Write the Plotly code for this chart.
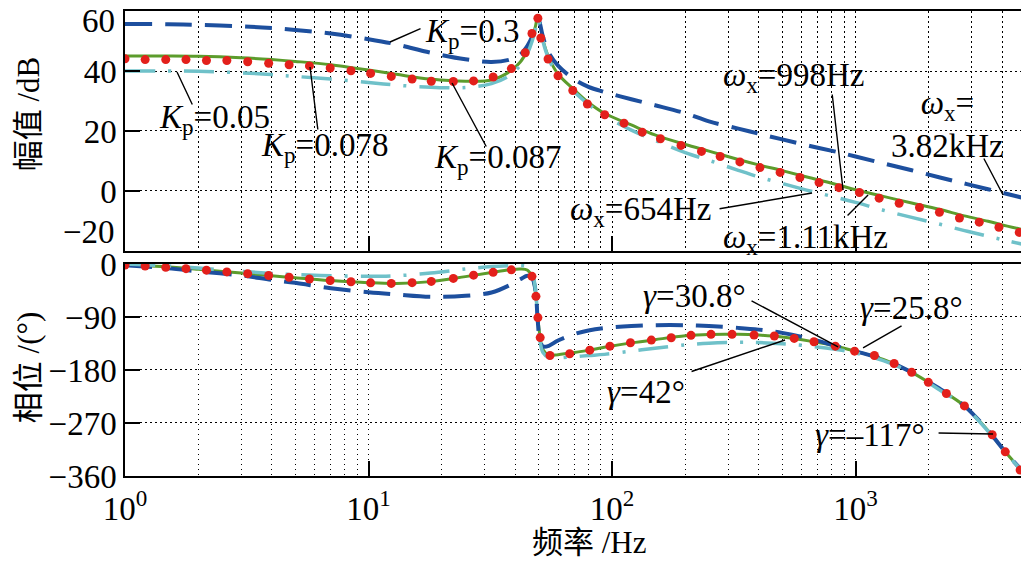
import numpy as np
import plotly.graph_objects as go
from plotly.subplots import make_subplots

# frequency grid (Hz) shared by the three line traces
freq = [1, 1.5, 2, 3, 4, 5, 7, 10, 13, 18,
        25, 32, 38, 42, 45, 47, 48.5, 49.5, 50.5, 52,
        55, 60, 70, 80, 93, 120, 150, 200, 250, 330,
        400, 500, 650, 850, 1000, 1300, 1700, 2200, 2800, 3500,
        4200, 5060]

# magnitude (dB)
mag_kp03 = [55.7, 55.6, 55.4, 54.9, 54.3, 53.7, 52.5, 50.6, 48.9, 46.1,
            43.9, 43.0, 43.8, 45.5, 48.5, 51.5, 55.0, 57.8, 56.0, 51.5,
            46.0, 41.8, 37.2, 34.7, 33.0, 30.6, 28.6, 25.9, 23.2, 20.8,
            19.1, 17.2, 15.0, 12.9, 11.5, 9.2, 6.9, 4.6, 2.5, 0.6,
            -1.0, -2.6]
mag_kp0087 = [45.0, 45.0, 44.9, 44.4, 43.8, 43.2, 42.1, 40.3, 38.9, 37.3,
              36.6, 37.0, 39.8, 43.0, 47.0, 51.0, 55.0, 58.0, 56.0, 50.5,
              44.5, 39.0, 33.7, 29.5, 25.9, 22.0, 18.7, 15.5, 13.3, 10.5,
              8.7, 6.8, 4.4, 2.0, 0.4, -1.8, -4.0, -6.1, -8.3, -10.1,
              -11.7, -13.2]
mag_kp005 = [40.0, 40.0, 39.9, 39.4, 38.8, 38.2, 37.3, 36.2, 35.3, 34.6,
             34.5, 35.8, 38.5, 42.0, 46.0, 50.0, 54.0, 57.5, 55.5, 50.0,
             44.0, 38.5, 33.0, 28.9, 25.1, 20.3, 16.9, 12.8, 10.2, 6.9,
             4.7, 2.5, 0.0, -2.3, -3.8, -6.4, -8.8, -11.0, -13.2, -15.1,
             -16.6, -18.1]

# phase (deg)
ph_kp03 = [-2, -7.5, -12.5, -19.5, -27, -32, -41.3, -48, -51.8, -55.8,
           -54, -48.4, -36, -26, -20, -24, -45, -95, -128, -140,
           -139, -130, -119, -113, -109, -105.5, -104, -104, -105.5, -108.5,
           -111.5, -117, -127, -140.5, -148.3, -162, -184, -211, -241, -283,
           -323, -360]
ph_kp0087 = [-1.5, -5, -9, -15.5, -20, -23.5, -28.2, -31.8, -33, -30,
             -21.5, -14.5, -10, -8.5, -10.5, -22, -50, -88, -120, -145,
             -154.5, -154, -150.5, -146.5, -141.5, -134, -128.5, -122, -119.7, -119.5,
             -120.8, -124, -131, -140.5, -148.3, -162, -184, -212, -241, -283,
             -323, -360]
ph_kp005 = [0, -3.5, -7, -12.5, -16, -18, -20, -21, -20, -15.5,
            -8.5, -4.5, -3, -2.5, -4.5, -14, -45, -90, -128, -150,
            -159, -159.5, -157.5, -155.5, -153.5, -148, -143, -137.5, -134.5, -133,
            -133.5, -135.5, -139.5, -145.5, -151, -164, -185, -213, -242, -284,
            -324, -360]

# Kp=0.078 is drawn as markers only
dot_f_mag = [1.0, 1.21, 1.47, 1.78, 2.16, 2.62, 3.19, 3.89, 4.72, 5.72,
             6.96, 8.47, 10.2, 12.4, 15.1, 18.1, 22.3, 27.0, 32.5, 38.6,
             44.0, 46.9, 49.6, 51.0, 54.6, 60.0, 69.0, 79.2, 93.3, 112,
             133, 158, 192, 233, 278, 335, 405, 490, 591, 708,
             855, 1037, 1250, 1510, 1830, 2210, 2670, 3220, 3880, 4700]
dot_mag = [44.1, 43.8, 43.8, 43.8, 43.5, 43.5, 43.1, 42.6, 42.1, 41.7,
           41.0, 40.1, 39.2, 38.2, 37.3, 36.6, 36.5, 36.7, 38.0, 40.8,
           46.1, 52.5, 57.6, 51.0, 44.0, 38.4, 33.5, 29.0, 25.4, 22.6,
           19.6, 17.4, 15.2, 13.2, 11.5, 9.7, 7.8, 6.2, 4.5, 2.8,
           1.1, -0.5, -2.4, -4.1, -5.5, -7.1, -9.0, -10.4, -12.1, -13.8]
dot_f_ph = [1.0, 1.21, 1.47, 1.78, 2.16, 2.62, 3.19, 3.89, 4.72, 5.72,
            6.96, 8.47, 10.2, 12.4, 15.1, 18.1, 22.3, 27.0, 32.5, 38.6,
            46.9, 48.7, 49.6, 50.7, 55.6, 67, 81, 98, 119, 145,
            175, 211, 255, 311, 383, 464, 560, 675, 826, 991,
            1195, 1440, 1700, 1990, 2360, 2800, 3640, 4120, 4740]
dot_ph = [-1.7, -3.5, -5.7, -8, -10.5, -13.5, -16.5, -19.5, -22.5, -25.5,
          -28, -30.2, -32, -33, -31.8, -29.6, -24.5, -19, -14.2, -10,
          -21, -55, -91, -125, -155.4, -152.5, -146.3, -139.5, -133.7, -129.3,
          -125.2, -121.2, -119.5, -119.5, -120.7, -122.4, -126.4, -132, -139.5, -148,
          -155.4, -169, -184, -201, -220, -241, -290, -319, -350]

x_tickvals = [1, 10, 100, 1000]
x_ticktext = ["10<sup>0</sup>", "10<sup>1</sup>", "10<sup>2</sup>", "10<sup>3</sup>"]
x_minor = [m * d for d in (1, 10, 100, 1000) for m in range(2, 10) if m * d < 5060]
mag_ticks = [-20, 0, 20, 40, 60]
mag_ticktext = ["", "0", "20", "40", ""]   # the end labels are placed by hand, as in the original
ph_ticks = [-360, -270, -180, -90, 0]

BLUE = "#1d4f9e"
CYAN = "#6fc1c9"
GREEN = "#5c9c2c"
RED = "#e3201b"
FONT = "Liberation Serif, Noto Sans CJK SC, serif"

fig = make_subplots(rows=2, cols=1, shared_xaxes=True)

for row, (y_blue, y_green, y_cyan, fx, fy) in enumerate(
        [(mag_kp03, mag_kp0087, mag_kp005, dot_f_mag, dot_mag),
         (ph_kp03, ph_kp0087, ph_kp005, dot_f_ph, dot_ph)], start=1):
    fig.add_trace(go.Scatter(x=freq, y=y_green, mode="lines", line_shape="spline",
                             line=dict(color=GREEN, width=3)), row=row, col=1)
    fig.add_trace(go.Scatter(x=freq, y=y_blue, mode="lines", line_shape="spline",
                             line=dict(color=BLUE, width=4, dash="27px,13px")), row=row, col=1)
    fig.add_trace(go.Scatter(x=freq, y=y_cyan, mode="lines", line_shape="spline",
                             line=dict(color=CYAN, width=3.5, dash="30px,13px,3px,13px")), row=row, col=1)
    fig.add_trace(go.Scatter(x=fx, y=fy, mode="markers",
                             marker=dict(color=RED, size=9, line_width=0)), row=row, col=1)

grid = dict(showgrid=True, gridcolor="black", gridwidth=1.3, griddash="1.5px,3.5px")
axis_common = dict(showline=True, linecolor="black", linewidth=1.5, mirror=True,
                   ticks="inside", ticklen=15, tickwidth=1.5, tickcolor="black",
                   zeroline=False, automargin=False,
                   tickfont=dict(family=FONT, size=33, color="black"))

for r in (1, 2):
    fig.update_xaxes(type="log", range=[0, 3.704], tickvals=x_tickvals, ticktext=x_ticktext,
                     minor=dict(tickvals=x_minor, showgrid=True, gridcolor="black",
                                gridwidth=1.3, griddash="1.5px,3.5px", ticks=""),
                     showticklabels=(r == 2), ticklabelstandoff=3,
                     row=r, col=1, **grid, **axis_common)

fig.update_yaxes(range=[-20, 60], tickvals=mag_ticks, ticktext=mag_ticktext, domain=[0.4839, 1.0],
                 row=1, col=1, **grid, **axis_common)
fig.update_yaxes(range=[-360, 0], tickvals=ph_ticks, domain=[0.0, 0.456],
                 row=2, col=1, **grid, **axis_common)


# reference-pixel helpers for label placement (page pixels of the original)
def tx(px):
    return (px - 125) / 243.5


def ty_mag(py):
    return (191 - py) / 3.0


def ty_ph(py):
    return -(py - 264) / 0.5889


labels_mag = [
    ("<i>K</i><sub>p</sub>=0.3", (472, 33), (390, 42), (422, 28)),
    ("<i>K</i><sub>p</sub>=0.05", (214, 120), (177, 72), (193, 106)),
    ("<i>K</i><sub>p</sub>=0.078", (324, 148), (310, 67), (318, 131)),
    ("<i>K</i><sub>p</sub>=0.087", (497, 160), (452, 83), (487, 148)),
    ("<i>ω</i><sub>x</sub>=998Hz", (793, 77), (843, 190), (832, 93)),
    ("<i>ω</i><sub>x</sub>=<br>3.82kHz", (947, 125), (1003, 195), (983, 157)),
    ("<i>ω</i><sub>x</sub>=654Hz", (640, 212), (812, 193), (718, 209)),
    ("<i>ω</i><sub>x</sub>=1.11kHz", (805, 240), (868, 195), (846, 217)),
]
labels_ph = [
    ("<i>γ</i>=30.8°", (694, 296), (838, 347), (750, 300)),
    ("<i>γ</i>=25.8°", (911, 308), (863, 348), (903, 325)),
    ("<i>γ</i>=42°", (646, 392), (785, 340), (690, 372)),
    ("<i>γ</i>=–117°", (870, 435), (993, 434), (937, 433)),
]

for labels, xr, yr, conv in [(labels_mag, "x", "y", ty_mag), (labels_ph, "x2", "y2", ty_ph)]:
    for text, (txp, typ), (p0x, p0y), (p1x, p1y) in labels:
        fig.add_annotation(x=tx(txp), y=conv(typ), xref=xr, yref=yr, text=text,
                           xanchor="center", yanchor="middle",
                           showarrow=False, font=dict(family=FONT, size=33, color="black"))
        fig.add_annotation(x=tx(p0x), y=conv(p0y), xref=xr, yref=yr,
                           ax=tx(p1x), ay=conv(p1y), axref=xr, ayref=yr, text="",
                           showarrow=True, arrowhead=0, arrowwidth=1.4, arrowcolor="black",
                           standoff=0, startstandoff=0)

# end labels of the magnitude axis are pulled inside the axis, as in the original
tick_font = dict(family=FONT, size=33, color="black")
fig.add_annotation(x=-0.009, y=-20, xref="paper", yref="y", text="−20",
                   xanchor="right", yanchor="bottom", yshift=-1,
                   showarrow=False, font=tick_font)
fig.add_annotation(x=-0.009, y=60, xref="paper", yref="y", text="60",
                   xanchor="right", yanchor="middle", yshift=-10,
                   showarrow=False, font=tick_font)

# axis titles
title_font = dict(family=FONT, size=31, color="black")
fig.add_annotation(x=-0.1075, y=0.778, xref="paper", yref="paper", text="幅值 /dB",
                   xanchor="center", yanchor="middle",
                   textangle=-90, showarrow=False, font=title_font)
fig.add_annotation(x=-0.1075, y=0.232, xref="paper", yref="paper", text="相位 /(°)",
                   xanchor="center", yanchor="middle",
                   textangle=-90, showarrow=False, font=title_font)
fig.add_annotation(x=0.5155, y=-0.144, xref="paper", yref="paper", text="频率 /Hz",
                   xanchor="center", yanchor="middle",
                   showarrow=False, font=title_font)

# the page body keeps an 8 px margin, so the figure is 8 px smaller and the margins shifted
fig.update_layout(
    width=1021, height=563,
    margin=dict(l=117, r=2, t=3, b=95),
    paper_bgcolor="white", plot_bgcolor="white",
    showlegend=False,
    font=dict(family=FONT, color="black"),
)

fig.write_html("out.html")
